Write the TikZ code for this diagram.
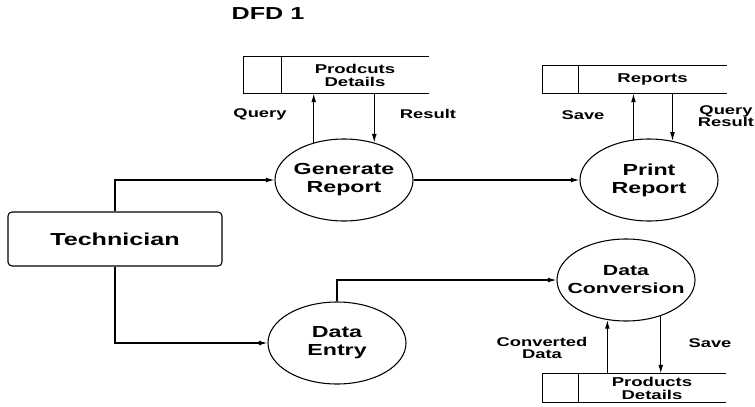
\documentclass[tikz,border=0pt]{standalone}
\usepackage{fontspec}
\setmainfont{Liberation Sans}[FakeStretch=1.45]
\usetikzlibrary{shapes.geometric, arrows.meta}

\tikzset{
    process/.style={draw, ellipse, line width=0.8pt, minimum width=103.5pt, minimum height=61.5pt,
        inner xsep=-16pt, inner ysep=0pt, align=center, font=\bfseries\fontsize{12}{13.5}\selectfont},
    datastore/.style={inner sep=0pt, align=center, font=\bfseries\fontsize{9.6}{9.75}\selectfont},
    flowlabel/.style={align=center, font=\bfseries\fontsize{9.5}{9.5}\selectfont},
}

\begin{document}
\begin{tikzpicture}[x=0.75pt, y=-0.75pt, line width=0.8pt, >={Latex[length=6.5pt,width=3.6pt]}]
    \useasboundingbox (0,0) rectangle (755,406);

    % Title
    \node[font=\bfseries\fontsize{13}{15}\selectfont] (title) at (268,14) {DFD 1};

    % External entity
    \node[draw, rounded corners=3pt, minimum width=160.5pt, minimum height=40.5pt,
        font=\bfseries\fontsize{13}{15}\selectfont] (tech) at (115,239) {Technician};

    % Processes
    \node[process] (gen) at (344,180) {Generate\\Report};
    \node[process] (prt) at (649,180) {Print\\Report};
    \node[process] (ent) at (337,343) {Data\\Entry};
    \node[process, font=\bfseries\fontsize{11}{13.5}\selectfont] (conv) at (626,280) {Data\\Conversion};

    % Data stores
    \node[datastore, minimum width=109.5pt, minimum height=27pt] (pd1) at (355,75) {Prodcuts\\Details};
    \node[datastore, minimum width=110.25pt, minimum height=20.25pt] (rep) at (652.5,79.5) {Reports};
    \node[datastore, minimum width=109.5pt, minimum height=21pt] (pd2) at (652,388) {Products\\Details};

    \draw (pd1.north east) -- ([xshift=-28.5pt]pd1.north west) -- ([xshift=-28.5pt]pd1.south west) -- (pd1.south east);
    \draw (pd1.north west) -- (pd1.south west);
    \draw (rep.north east) -- ([xshift=-27pt]rep.north west) -- ([xshift=-27pt]rep.south west) -- (rep.south east);
    \draw (rep.north west) -- (rep.south west);
    \draw (pd2.north east) -- ([xshift=-27pt]pd2.north west) -- ([xshift=-27pt]pd2.south west) -- (pd2.south east);
    \draw (pd2.north west) -- (pd2.south west);

    % Flows from the technician
    \draw[->] (tech.north) |- (gen.west);
    \draw[->] (tech.south) |- (ent.west);
    \draw[->] (gen.east) -- (prt.west);
    \draw[->] (ent.north) |- (conv.west);

    % Flows to and from the stores
    \draw[->] (gen.129) -- (gen.129 |- pd1.south);
    \draw[->] (gen.51 |- pd1.south) -- (gen.51);
    \draw[->] (prt.111) -- (prt.111 |- rep.south);
    \draw[->] (prt.59 |- rep.south) -- (prt.59);
    \draw[->] (conv.245 |- pd2.north) -- (conv.245);
    \draw[->] (conv.314) -- (conv.314 |- pd2.north);

    % Flow labels
    \node[flowlabel] (query) at (260,114) {Query};
    \node[flowlabel] (result) at (428,114) {Result};
    \node[flowlabel] (save1) at (583,115) {Save};
    \node[flowlabel] (qres) at (726,116) {Query\\Result};
    \node[flowlabel] (conved) at (542,348) {Converted\\Data};
    \node[flowlabel] (save2) at (710,343) {Save};
\end{tikzpicture}
\end{document}
